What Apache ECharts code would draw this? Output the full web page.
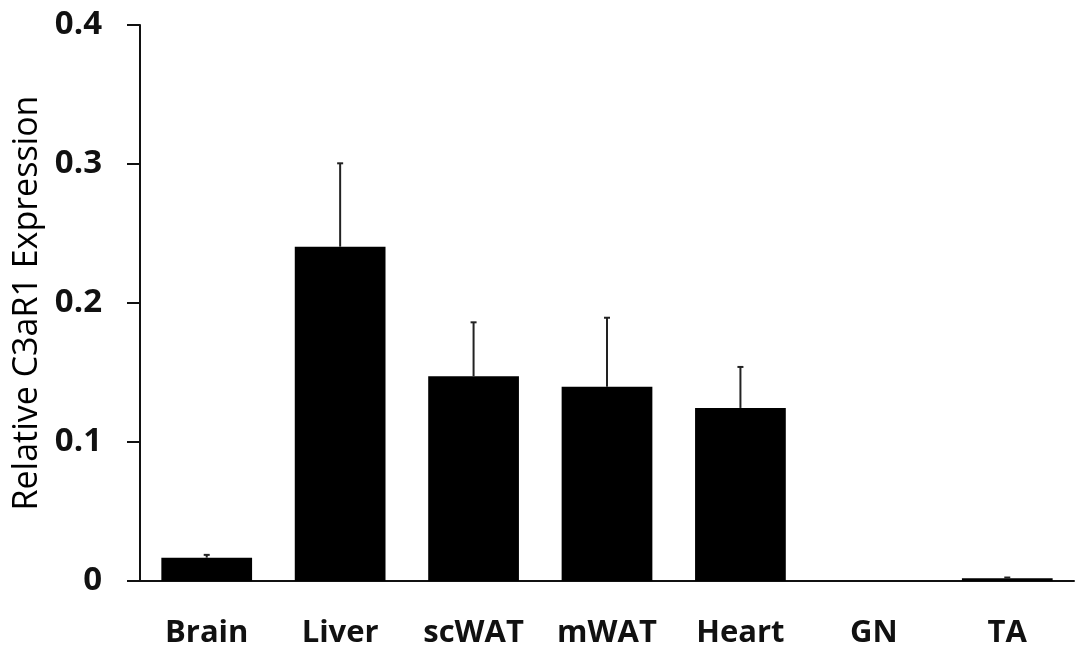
<!DOCTYPE html>
<html>
<head>
<meta charset="utf-8">
<script src="https://cdn.jsdelivr.net/npm/echarts@6/dist/echarts.min.js"></script>
<style>
  html, body { margin: 0; padding: 0; background: #fff; }
  #chart { width: 1076px; height: 652px; }
</style>
</head>
<body>
<div id="chart"></div>
<script>
const tissues = ['Brain', 'Liver', 'scWAT', 'mWAT', 'Heart', 'GN', 'TA']
const expression = [0.0168, 0.2405, 0.1473, 0.1398, 0.1245, 0, 0.002]
const errorUp = [0.002, 0.060, 0.0388, 0.0496, 0.0295, 0, 0.0005]
const yTicks = [0, 0.1, 0.2, 0.3, 0.4]

const chart = echarts.init(document.getElementById('chart'))
const font = '"Open Sans", "Liberation Sans", sans-serif'

// upper whisker only, small cap on top
const renderError = (params, api) => {
  const i = api.value(0)
  const top = api.coord([i, api.value(1) + api.value(2)])
  const base = api.coord([i, api.value(1)])
  if (api.value(2) <= 0) return
  return {
    type: 'group',
    children: [
      { type: 'line', shape: { x1: top[0], y1: top[1], x2: base[0], y2: base[1] },
        style: { stroke: '#222', lineWidth: 2 } },
      { type: 'line', shape: { x1: top[0] - 3, y1: top[1], x2: top[0] + 3, y2: top[1] },
        style: { stroke: '#222', lineWidth: 2 } },
    ],
  }
}

const option = {
  animation: false,
  grid: { left: 140, right: 2, top: 25, bottom: 71, containLabel: false },
  xAxis: {
    type: 'category',
    data: tissues,
    axisLine: { lineStyle: { color: '#111', width: 2 } },
    axisTick: { show: false },
    axisLabel: {
      color: '#111', fontSize: 31, fontWeight: 'bold', fontFamily: font, margin: 37,
      interval: 0, hideOverlap: false,
    },
  },
  yAxis: {
    type: 'value',
    min: 0,
    max: 0.4,
    interval: 0.1,
    name: 'Relative C3aR1 Expression',
    nameLocation: 'middle',
    nameGap: 93,
    nameTextStyle: { color: '#000', fontSize: 34, fontFamily: font, fontWeight: 'normal' },
    splitLine: { show: false },
    axisLine: { show: true, lineStyle: { color: '#111', width: 2 } },
    axisTick: { show: true, length: 13, lineStyle: { color: '#111', width: 2 } },
    axisLabel: {
      color: '#111', fontSize: 33, fontWeight: 'bold', fontFamily: font, margin: 38,
      formatter: v => (yTicks.includes(v) ? (v === 0 ? '0' : v.toFixed(1)) : ''),
    },
  },
  series: [
    {
      type: 'bar',
      data: expression,
      barCategoryGap: '32%',
      itemStyle: { color: '#000' },
    },
    {
      type: 'custom',
      renderItem: renderError,
      data: expression.map((v, i) => [i, v, errorUp[i]]),
      z: 5,
    },
  ],
}

chart.setOption(option)
</script>
</body>
</html>
